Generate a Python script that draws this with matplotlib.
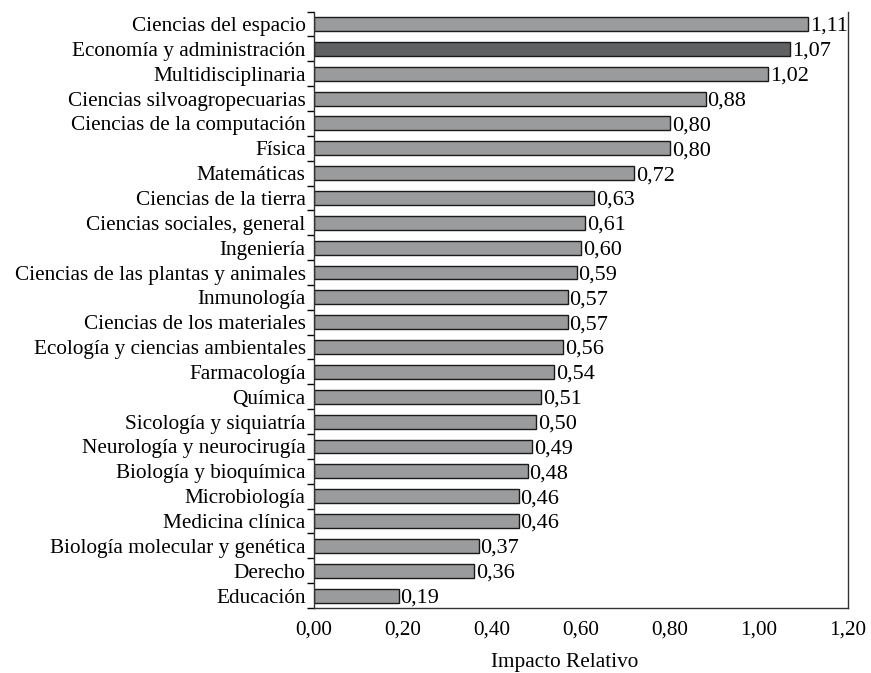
import matplotlib.pyplot as plt
import numpy as np

plt.rcParams['font.family'] = ['Liberation Serif', 'DejaVu Serif']

categories = ["Ciencias del espacio", "Economía y administración", "Multidisciplinaria",
              "Ciencias silvoagropecuarias", "Ciencias de la computación", "Física",
              "Matemáticas", "Ciencias de la tierra", "Ciencias sociales, general",
              "Ingeniería", "Ciencias de las plantas y animales", "Inmunología",
              "Ciencias de los materiales", "Ecología y ciencias ambientales",
              "Farmacología", "Química", "Sicología y siquiatría",
              "Neurología y neurocirugía", "Biología y bioquímica", "Microbiología",
              "Medicina clínica", "Biología molecular y genética", "Derecho", "Educación"]
values = [1.11, 1.07, 1.02, 0.88, 0.80, 0.80, 0.72, 0.63, 0.61, 0.60, 0.59, 0.57,
          0.57, 0.56, 0.54, 0.51, 0.50, 0.49, 0.48, 0.46, 0.46, 0.37, 0.36, 0.19]
highlight = "Economía y administración"
xticks = [0.0, 0.2, 0.4, 0.6, 0.8, 1.0, 1.2]

fig = plt.figure(figsize=(8.71, 6.73), dpi=100)
ax = fig.add_axes([0.3605, 0.0966, 0.6131, 0.8862])

y = np.arange(len(categories))
colors = ['#606163' if c == highlight else '#9a9b9d' for c in categories]
ax.barh(y, values, height=0.56, color=colors, edgecolor='#1a1a1a', linewidth=1.0)

for yi, v in zip(y, values):
    ax.text(v + 0.004, yi + 0.1, f"{v:.2f}".replace('.', ','), va='center', ha='left',
            fontsize=16)

ax.set_ylim(len(categories) - 0.5, -0.5)
ax.set_xlim(0, 1.2)
ax.set_yticks(y)
ax.set_yticklabels(categories, fontsize=15.3)
ax.set_yticks(np.arange(-0.5, len(categories), 1), minor=True)
ax.tick_params(axis='y', which='major', length=0, pad=6)
ax.tick_params(axis='y', which='minor', length=5, width=1, direction='out')
ax.set_xticks(xticks)
ax.set_xticklabels([f"{t:.2f}".replace('.', ',') for t in xticks], fontsize=15.3)
ax.tick_params(axis='x', length=0, pad=9)
ax.set_xlabel("Impacto Relativo", fontsize=15.3, labelpad=10)
ax.xaxis.set_label_coords(0.47, -0.075)

ax.spines['top'].set_visible(False)
for s in ['left', 'bottom', 'right']:
    ax.spines[s].set_linewidth(1.0)
    ax.spines[s].set_color('#333333')

fig.savefig("out.png", dpi=100)
